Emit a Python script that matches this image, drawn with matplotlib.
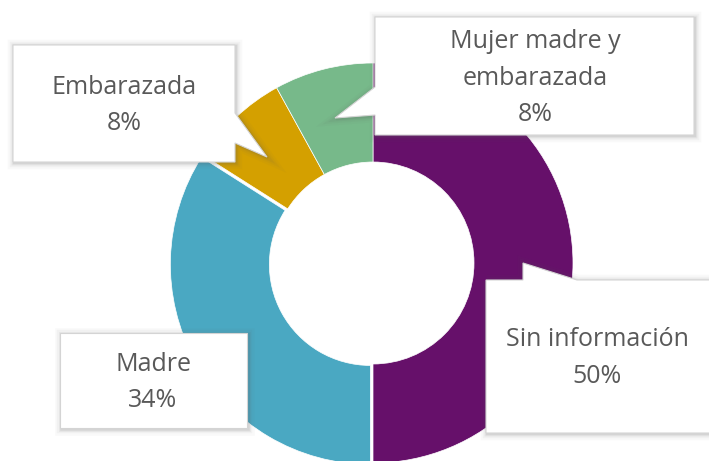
import matplotlib
matplotlib.use("Agg")
import matplotlib.pyplot as plt
from matplotlib.patches import Polygon

categories = ["Sin información", "Madre", "Embarazada", "Mujer madre y\nembarazada"]
values = [50, 34, 8, 8]
pct_labels = ["50%", "34%", "8%", "8%"]
colors = ["#66106A", "#4AA8C2", "#D4A000", "#77B98A"]

W, H = 709, 461
fig = plt.figure(figsize=(W / 100, H / 100), dpi=100)
ax = fig.add_axes([0, 0, 1, 1])

ax.pie(values, colors=colors, startangle=90, counterclock=False,
       radius=200, center=(373, H - 263), explode=[0, 3, 0, 0],
       wedgeprops=dict(width=99, edgecolor="white", linewidth=0.5))
ax.set_xlim(0, W)
ax.set_ylim(0, H)
ax.set_aspect("equal")
ax.set_axis_off()

def Y(y):
    return H - y

# callout shapes (image pixel coordinates, y down)
callouts = {
    "Sin información": [(486, 280), (523, 280), (523, 263), (577, 280), (720, 280),
                        (720, 433), (486, 433)],
    "Madre": [(60, 333), (247, 333), (247, 428), (60, 428)],
    "Embarazada": [(13, 45), (235, 45), (235, 113), (267, 157), (235, 143),
                   (235, 162), (13, 162)],
    "Mujer madre y\nembarazada": [(375, 17), (694, 17), (694, 135), (375, 135),
                                  (375, 115), (335, 118), (375, 87)],
}
text_pos = {
    "Sin información": (597, 358),
    "Madre": (153, 382.5),
    "Embarazada": (124, 105.5),
    "Mujer madre y\nembarazada": (535, 78),
}

for cat, pct in zip(categories, pct_labels):
    pts = [(x, Y(y)) for x, y in callouts[cat]]
    for lw, a in [(9, 0.035), (6, 0.05), (3.5, 0.08), (1.8, 0.12)]:
        sh = [(x + 1, y - 1) for x, y in pts]
        ax.add_patch(Polygon(sh, closed=True, facecolor="none",
                             edgecolor="#606060", linewidth=lw, alpha=a,
                             joinstyle="miter", zorder=3))
    ax.add_patch(Polygon(pts, closed=True, facecolor="white",
                         edgecolor="#D4D4D4", linewidth=0.8, zorder=4))
    tx, ty = text_pos[cat]
    ax.text(tx, Y(ty), f"{cat}\n{pct}", ha="center", va="center",
            fontsize=18, color="#595959", family=["Open Sans", "DejaVu Sans"],
            linespacing=1.6, zorder=5)

fig.savefig("out.png", dpi=100)
